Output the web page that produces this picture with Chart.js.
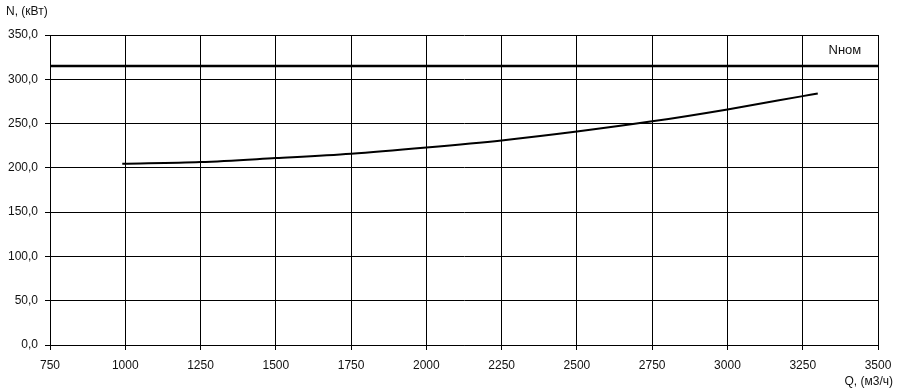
<!DOCTYPE html>
<html>
<head>
<meta charset="utf-8">
<script src="https://cdn.jsdelivr.net/npm/chart.js@4"></script>
<style>
  html, body { margin: 0; padding: 0; background: #fff; }
  #wrap { width: 900px; height: 392px; }
</style>
</head>
<body>
<div id="wrap"><canvas id="chart" width="900" height="392"></canvas></div>
<script>
// расход, м3/ч
var qValues = [990, 1250, 1500, 1750, 2000, 2250, 2500, 2750, 3000, 3250, 3300];
// мощность, кВт
var nValues = [204.5, 206.5, 211, 216, 223, 231, 241, 252.5, 266, 281, 284];
// номинальная мощность
var nomX = [750, 3500];
var nomY = [315, 315];
var nomLabel = "Nном";

var yTitle = "N, (кВт)";
var xTitle = "Q, (м3/ч)";

const FONT = "Arial, 'Liberation Sans', sans-serif";

// подписи осей и Nном
const textPlugin = {
  id: 'textPlugin',
  afterDraw: (chart) => {
    const { ctx, scales } = chart;
    ctx.save();
    ctx.fillStyle = '#111';
    ctx.font = '12px ' + FONT;
    ctx.textBaseline = 'middle';
    ctx.textAlign = 'left';
    ctx.fillText(yTitle, 6, 12);
    ctx.textAlign = 'right';
    ctx.fillText(xTitle, 893, 382);
    ctx.textAlign = 'center';
    ctx.font = '13px ' + FONT;
    ctx.fillText(nomLabel, scales.x.getPixelForValue(3390), scales.y.getPixelForValue(nomY[0]) - 16);
    ctx.restore();
  }
};

new Chart(document.getElementById("chart"), {
  type: "line",
  data: {
    datasets: [
      {
        label: "N",
        data: qValues.map((q, i) => ({ x: q, y: nValues[i] })),
        borderColor: "#000",
        borderWidth: 2,
        pointRadius: 0,
        cubicInterpolationMode: "monotone",
        fill: false
      },
      {
        label: nomLabel,
        data: nomX.map((q, i) => ({ x: q, y: nomY[i] })),
        borderColor: "#000",
        borderWidth: 2.5,
        pointRadius: 0,
        fill: false
      }
    ]
  },
  options: {
    responsive: false,
    animation: false,
    layout: { padding: { top: 35, right: 22, left: 0, bottom: 0 } },
    plugins: {
      legend: { display: false },
      tooltip: { enabled: false }
    },
    scales: {
      x: {
        type: "linear",
        min: 750,
        max: 3500,
        afterFit: (s) => { s.height = 47; },
        ticks: {
          stepSize: 250,
          padding: 8,
          color: "#111",
          font: { size: 12, family: FONT },
          callback: (v) => String(v)
        },
        grid: { color: "#000", lineWidth: 1, tickLength: 5 },
        border: { color: "#000", width: 1 }
      },
      y: {
        min: 0,
        max: 350,
        afterFit: (s) => { s.width = 50; },
        ticks: {
          stepSize: 50,
          padding: 7,
          color: "#111",
          font: { size: 12, family: FONT },
          callback: (v) => v.toFixed(1).replace(".", ",")
        },
        grid: { color: "#000", lineWidth: 1, tickLength: 5 },
        border: { color: "#000", width: 1 }
      }
    }
  },
  plugins: [textPlugin]
});
</script>
</body>
</html>
